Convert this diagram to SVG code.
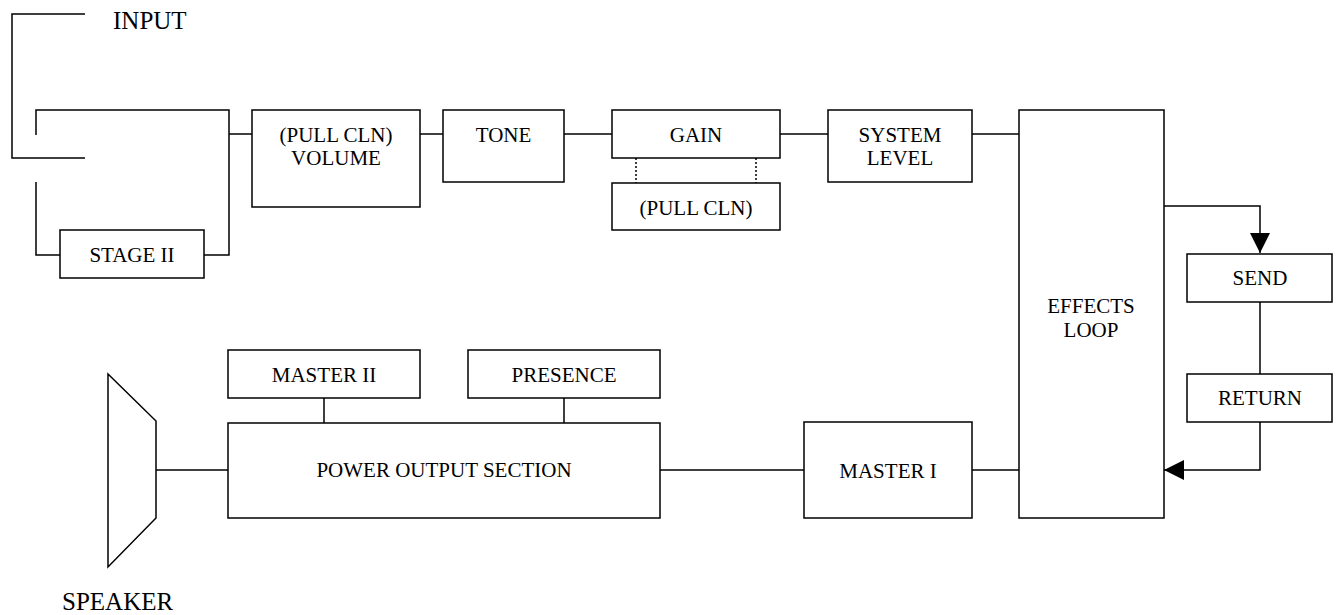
<svg xmlns="http://www.w3.org/2000/svg" width="1336" height="615" viewBox="0 0 1336 615" font-family="'Liberation Serif', 'DejaVu Serif', serif">
<style>
.box{fill:#fff;stroke:#000;stroke-width:1.5}
.ln{fill:none;stroke:#000;stroke-width:1.5}
.dot{fill:none;stroke:#000;stroke-width:1.5;stroke-dasharray:2 2}
text{font-family:'Liberation Serif','DejaVu Serif',serif;font-size:21px;fill:#000;text-anchor:middle}
.big{font-size:25px;text-anchor:start}
</style>
<defs>
<marker id="arr" markerUnits="userSpaceOnUse" markerWidth="20" markerHeight="20" refX="20" refY="10" orient="auto">
<path d="M0,0 L20,10 L0,20 z" fill="#000"/>
</marker>
</defs>
<rect width="1336" height="615" fill="#fff"/>
<g id="connectors">
<path class="ln" d="M85,14 H12 V158 H85"/>
<path class="ln" d="M36,135 V110 H229 V255 H204"/>
<path class="ln" d="M36,182 V255 H60"/>
<path class="ln" d="M229,134 H252"/>
<path class="ln" d="M420,134 H443"/>
<path class="ln" d="M564,134 H612"/>
<path class="ln" d="M780,134 H828"/>
<path class="ln" d="M972,134 H1019"/>
<path class="dot" d="M636,158 V183 M756,158 V183"/>
<path class="ln" d="M1164,206 H1260 V253" marker-end="url(#arr)"/>
<path class="ln" d="M1260,302 V374"/>
<path class="ln" d="M1260,422 V470 H1164" marker-end="url(#arr)"/>
<path class="ln" d="M972,470 H1019"/>
<path class="ln" d="M660,470 H804"/>
<path class="ln" d="M156,470 H228"/>
<path class="ln" d="M324,398 V423 M564,398 V423"/>
</g>
<g id="input"><text class="big" x="113" y="29">INPUT</text></g>
<g id="stage2"><rect class="box" x="60" y="230" width="144" height="48"/><text x="132" y="262">STAGE II</text></g>
<g id="volume"><rect class="box" x="252" y="110" width="168" height="97"/><text x="336" y="142">(PULL CLN)</text><text x="336" y="165">VOLUME</text></g>
<g id="tone"><rect class="box" x="443" y="110" width="121" height="72"/><text x="503.5" y="142">TONE</text></g>
<g id="gain"><rect class="box" x="612" y="110" width="168" height="48"/><text x="696" y="142">GAIN</text></g>
<g id="pullcln"><rect class="box" x="612" y="183" width="168" height="47"/><text x="696" y="215">(PULL CLN)</text></g>
<g id="systemlevel"><rect class="box" x="828" y="110" width="144" height="72"/><text x="900" y="142">SYSTEM</text><text x="900" y="165">LEVEL</text></g>
<g id="effects"><rect class="box" x="1019" y="110" width="145" height="408"/><text x="1091" y="313">EFFECTS</text><text x="1091" y="337">LOOP</text></g>
<g id="send"><rect class="box" x="1187" y="254" width="145" height="48"/><text x="1260" y="285">SEND</text></g>
<g id="return"><rect class="box" x="1187" y="374" width="145" height="48"/><text x="1260" y="405">RETURN</text></g>
<g id="master1"><rect class="box" x="804" y="422" width="168" height="96"/><text x="888" y="478">MASTER I</text></g>
<g id="master2"><rect class="box" x="228" y="350" width="192" height="48"/><text x="324" y="382">MASTER II</text></g>
<g id="presence"><rect class="box" x="468" y="350" width="192" height="48"/><text x="564" y="382">PRESENCE</text></g>
<g id="power"><rect class="box" x="228" y="423" width="432" height="95"/><text x="444" y="477">POWER OUTPUT SECTION</text></g>
<g id="speaker"><polygon class="box" points="108,374 156,421 156,518 108,567"/><text class="big" x="62" y="610">SPEAKER</text></g>
</svg>
